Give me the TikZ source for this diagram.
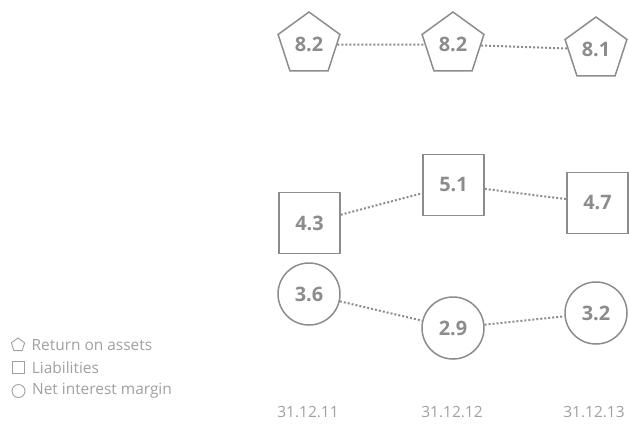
\documentclass[tikz,border=0pt]{standalone}
\usepackage{fontspec}
\setmainfont{Open Sans}
\usetikzlibrary{shapes.geometric,positioning}
\definecolor{shapegray}{HTML}{8C8C8C}
\definecolor{textgray}{HTML}{A0A0A0}

\begin{document}
\begin{tikzpicture}[x=1bp,y=-1bp,
        every node/.style={inner sep=0pt},
        val/.style={draw=shapegray,line width=1.5bp,text=shapegray,font=\fontsize{20}{24}\selectfont\bfseries},
        roa/.style={val,regular polygon,regular polygon sides=5,minimum size=65bp},
        liab/.style={val,rectangle,minimum size=61bp},
        nim/.style={val,circle,minimum size=62bp},
        link/.style={color=shapegray,line width=2bp,dash pattern=on 2bp off 2bp},
        date/.style={text=textgray,font=\fontsize{15.5}{18}\selectfont},
        key/.style={text=textgray,font=\fontsize{15.5}{18}\selectfont},
        keyicon/.style={draw=textgray,line width=0.9bp}]
    \useasboundingbox (0,0) rectangle (629,425);
    % return on assets
    \node[roa] (roa11) at (309,44.5) {8.2};
    \node[roa] (roa12) at (453,44.5) {8.2};
    \node[roa] (roa13) at (596,49.5) {8.1};
    % liabilities
    \node[liab] (liab11) at (309.5,223) {4.3};
    \node[liab] (liab12) at (453.5,185) {5.1};
    \node[liab] (liab13) at (597.5,203) {4.7};
    % net interest margin
    \node[nim] (nim11) at (309,294) {3.6};
    \node[nim] (nim12) at (453,328) {2.9};
    \node[nim] (nim13) at (596,313) {3.2};
    \path[link]
        (roa11) edge (roa12)
        (roa12) edge (roa13)
        (liab11) edge (liab12)
        (liab12) edge (liab13)
        (nim11) edge (nim12)
        (nim12) edge (nim13);
    % dates
    \node[date] (d11) at (308,412) {31.12.11};
    \node[date] (d12) at (452,412) {31.12.12};
    \node[date] (d13) at (594,412) {31.12.13};
    % legend
    \node[keyicon,regular polygon,regular polygon sides=5,minimum size=14bp] (kroa) at (18,345) {};
    \node[keyicon,rectangle,minimum size=12.5bp] (kliab) at (18.5,367.5) {};
    \node[keyicon,circle,minimum size=13bp] (knim) at (18.5,391) {};
    \node[key,right=7bp of kroa] (troa) {Return on assets};
    \node[key,right=6.5bp of kliab] (tliab) {Liabilities};
    \node[key,right=6.5bp of knim] (tnim) {Net interest margin};
\end{tikzpicture}
\end{document}
